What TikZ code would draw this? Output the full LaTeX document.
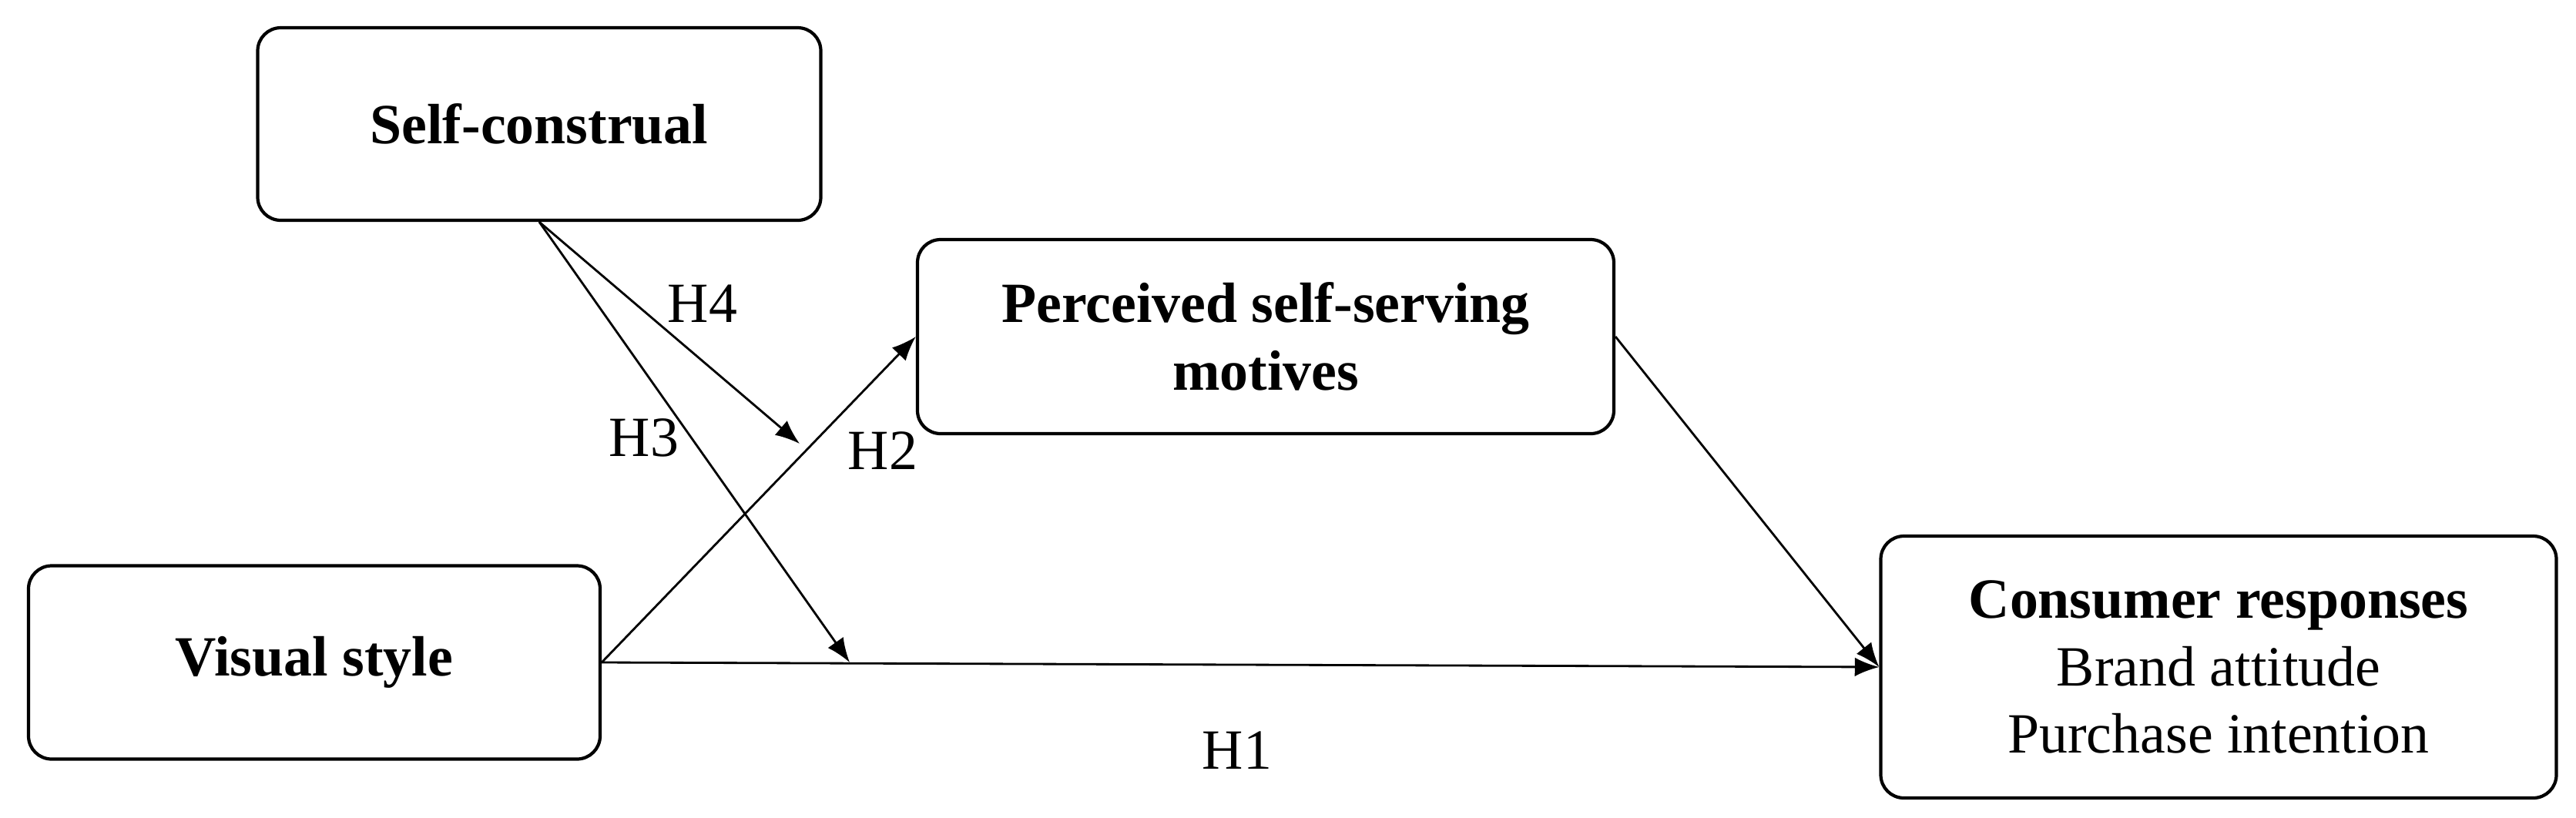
\documentclass[tikz,border=0pt]{standalone}
\usepackage{fontspec}
\setmainfont{Liberation Serif}
\usetikzlibrary{arrows.meta}

\tikzset{
  varbox/.style={draw, rounded corners=0.3cm, line width=1.2pt, align=center,
    inner sep=0pt, font=\fontsize{21}{25}\selectfont},
  hlabel/.style={font=\fontsize{21}{25}\selectfont, inner sep=1pt},
}

\begin{document}
\begin{tikzpicture}[>={Latex[length=9pt,width=7pt]}, line width=0.8pt]

  \useasboundingbox (0,0) rectangle (33.44,-10.61);

  % Variaveis
  \node[varbox, minimum width=7.31cm, minimum height=2.50cm] (sc) at (7.00,-1.61)
    {\bfseries Self-construal};
  \node[varbox, minimum width=9.04cm, minimum height=2.52cm] (psm) at (16.43,-4.37)
    {\textbf{Perceived self-serving}\\\textbf{motives}};
  \node[varbox, minimum width=7.42cm, minimum height=2.51cm] (vs) at (4.08,-8.60)
    {\bfseries Visual style};
  \node[varbox, minimum width=8.77cm, minimum height=3.40cm] (cr) at (28.80,-8.66)
    {\textbf{Consumer responses}\\Brand attitude\\Purchase intention};

  % Pontas livres das moderacoes
  \coordinate (h4end) at (10.38,-5.76);
  \coordinate (h3end) at (11.03,-8.60);

  % Caminhos
  \draw[->] (vs.east) -- (psm.west);
  \draw[->] (vs.east) -- (cr.west);
  \draw[->] (psm.east) -- (cr.west);
  \draw[->] (sc.south) -- (h4end);
  \draw[->] (sc.south) -- (h3end);

  % Hipoteses
  \node[hlabel] (lh1) at (16.06,-9.74) {H1};
  \node[hlabel] (lh2) at (11.46,-5.85) {H2};
  \node[hlabel] (lh3) at (8.36,-5.68) {H3};
  \node[hlabel] (lh4) at (9.12,-3.94) {H4};

\end{tikzpicture}
\end{document}
